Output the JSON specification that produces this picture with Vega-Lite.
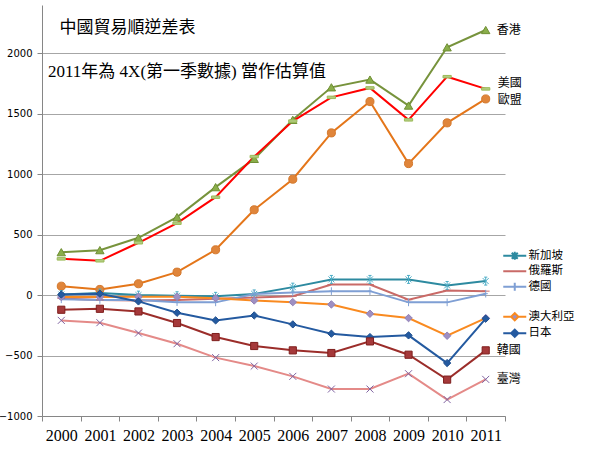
{
  "$schema": "https://vega.github.io/schema/vega-lite/v6.json",
  "width": 463,
  "height": 411,
  "autosize": "none",
  "padding": {"left": 42, "top": 5, "right": 95, "bottom": 41},
  "background": "white",
  "config": {"view": {"stroke": null}},
  "title": {
    "text": "\u2060\u00a0\u00a0\u00a0中國貿易順逆差表",
    "subtitle": "2011年為 4X(第一季數據) 當作估算值",
    "anchor": "start",
    "frame": "group",
    "orient": "top",
    "offset": 0,
    "dx": 6,
    "dy": 76,
    "font": "Noto Sans CJK TC",
    "fontSize": 17,
    "fontWeight": "normal",
    "color": "black",
    "subtitleFont": "Liberation Serif, Noto Sans CJK TC",
    "subtitleFontSize": 17,
    "subtitleColor": "black",
    "subtitlePadding": 27
  },
  "data": {"values": [
    {"year":"2000","series":"香港","value":355},{"year":"2001","series":"香港","value":372},{"year":"2002","series":"香港","value":474},{"year":"2003","series":"香港","value":645},{"year":"2004","series":"香港","value":893},{"year":"2005","series":"香港","value":1127},{"year":"2006","series":"香港","value":1450},{"year":"2007","series":"香港","value":1719},{"year":"2008","series":"香港","value":1783},{"year":"2009","series":"香港","value":1568},{"year":"2010","series":"香港","value":2050},{"year":"2011","series":"香港","value":2193},
    {"year":"2000","series":"美國","value":300},{"year":"2001","series":"美國","value":284},{"year":"2002","series":"美國","value":433},{"year":"2003","series":"美國","value":595},{"year":"2004","series":"美國","value":810},{"year":"2005","series":"美國","value":1146},{"year":"2006","series":"美國","value":1440},{"year":"2007","series":"美國","value":1636},{"year":"2008","series":"美國","value":1714},{"year":"2009","series":"美國","value":1450},{"year":"2010","series":"美國","value":1807},{"year":"2011","series":"美國","value":1706},
    {"year":"2000","series":"歐盟","value":74},{"year":"2001","series":"歐盟","value":47},{"year":"2002","series":"歐盟","value":94},{"year":"2003","series":"歐盟","value":190},{"year":"2004","series":"歐盟","value":375},{"year":"2005","series":"歐盟","value":706},{"year":"2006","series":"歐盟","value":959},{"year":"2007","series":"歐盟","value":1342},{"year":"2008","series":"歐盟","value":1601},{"year":"2009","series":"歐盟","value":1088},{"year":"2010","series":"歐盟","value":1425},{"year":"2011","series":"歐盟","value":1623},
    {"year":"2000","series":"新加坡","value":5},{"year":"2001","series":"新加坡","value":17},{"year":"2002","series":"新加坡","value":0},{"year":"2003","series":"新加坡","value":-5},{"year":"2004","series":"新加坡","value":-10},{"year":"2005","series":"新加坡","value":10},{"year":"2006","series":"新加坡","value":66},{"year":"2007","series":"新加坡","value":130},{"year":"2008","series":"新加坡","value":130},{"year":"2009","series":"新加坡","value":130},{"year":"2010","series":"新加坡","value":80},{"year":"2011","series":"新加坡","value":116},
    {"year":"2000","series":"俄羅斯","value":-27},{"year":"2001","series":"俄羅斯","value":-40},{"year":"2002","series":"俄羅斯","value":-45},{"year":"2003","series":"俄羅斯","value":-40},{"year":"2004","series":"俄羅斯","value":-30},{"year":"2005","series":"俄羅斯","value":-20},{"year":"2006","series":"俄羅斯","value":-10},{"year":"2007","series":"俄羅斯","value":88},{"year":"2008","series":"俄羅斯","value":88},{"year":"2009","series":"俄羅斯","value":-38},{"year":"2010","series":"俄羅斯","value":39},{"year":"2011","series":"俄羅斯","value":33},
    {"year":"2000","series":"德國","value":-35},{"year":"2001","series":"德國","value":-40},{"year":"2002","series":"德國","value":-40},{"year":"2003","series":"德國","value":-58},{"year":"2004","series":"德國","value":-60},{"year":"2005","series":"德國","value":10},{"year":"2006","series":"德國","value":22},{"year":"2007","series":"德國","value":33},{"year":"2008","series":"德國","value":33},{"year":"2009","series":"德國","value":-60},{"year":"2010","series":"德國","value":-60},{"year":"2011","series":"德國","value":12},
    {"year":"2000","series":"澳大利亞","value":-16},{"year":"2001","series":"澳大利亞","value":-16},{"year":"2002","series":"澳大利亞","value":-13},{"year":"2003","series":"澳大利亞","value":-13},{"year":"2004","series":"澳大利亞","value":-25},{"year":"2005","series":"澳大利亞","value":-44},{"year":"2006","series":"澳大利亞","value":-58},{"year":"2007","series":"澳大利亞","value":-77},{"year":"2008","series":"澳大利亞","value":-154},{"year":"2009","series":"澳大利亞","value":-190},{"year":"2010","series":"澳大利亞","value":-336},{"year":"2011","series":"澳大利亞","value":-190},
    {"year":"2000","series":"日本","value":5},{"year":"2001","series":"日本","value":12},{"year":"2002","series":"日本","value":-52},{"year":"2003","series":"日本","value":-146},{"year":"2004","series":"日本","value":-209},{"year":"2005","series":"日本","value":-168},{"year":"2006","series":"日本","value":-242},{"year":"2007","series":"日本","value":-319},{"year":"2008","series":"日本","value":-347},{"year":"2009","series":"日本","value":-333},{"year":"2010","series":"日本","value":-562},{"year":"2011","series":"日本","value":-195},
    {"year":"2000","series":"韓國","value":-121},{"year":"2001","series":"韓國","value":-113},{"year":"2002","series":"韓國","value":-135},{"year":"2003","series":"韓國","value":-231},{"year":"2004","series":"韓國","value":-347},{"year":"2005","series":"韓國","value":-421},{"year":"2006","series":"韓國","value":-457},{"year":"2007","series":"韓國","value":-479},{"year":"2008","series":"韓國","value":-383},{"year":"2009","series":"韓國","value":-493},{"year":"2010","series":"韓國","value":-699},{"year":"2011","series":"韓國","value":-457},
    {"year":"2000","series":"臺灣","value":-209},{"year":"2001","series":"臺灣","value":-228},{"year":"2002","series":"臺灣","value":-314},{"year":"2003","series":"臺灣","value":-402},{"year":"2004","series":"臺灣","value":-517},{"year":"2005","series":"臺灣","value":-587},{"year":"2006","series":"臺灣","value":-672},{"year":"2007","series":"臺灣","value":-777},{"year":"2008","series":"臺灣","value":-777},{"year":"2009","series":"臺灣","value":-650},{"year":"2010","series":"臺灣","value":-864},{"year":"2011","series":"臺灣","value":-697}
  ]},
  "encoding": {
    "x": {
      "field": "year", "type": "ordinal", "bandPosition": 0.5,
      "scale": {"type": "band", "paddingInner": 0, "paddingOuter": 0},
      "axis": {"title": null, "labelAngle": 0, "labelFont": "Liberation Serif", "labelFontSize": 16, "labelColor": "black", "labelPadding": 6, "tickBand": "extent", "tickSize": 5, "tickColor": "#868686", "domainColor": "#868686", "grid": false}
    },
    "y": {
      "field": "value", "type": "quantitative",
      "scale": {"domain": [-1000, 2400], "nice": false, "zero": false},
      "axis": {"title": null, "format": "d", "values": [-1000, -500, 0, 500, 1000, 1500, 2000], "labelFont": "DejaVu Sans", "labelFontSize": 10, "labelColor": "black", "labelPadding": 5, "tickSize": 5, "tickColor": "#868686", "domainColor": "#868686", "gridColor": "#a6a6a6", "grid": true}
    }
  },
  "layer": [
    {
      "mark": {"type": "line", "strokeWidth": 2},
      "encoding": {
        "color": {
          "field": "series", "type": "nominal",
          "scale": {
            "domain": ["香港","美國","歐盟","新加坡","俄羅斯","德國","澳大利亞","日本","韓國","臺灣"],
            "range": ["#77933c","#ff0000","#e4761a","#2d8aa0","#c96a67","#7f9fd4","#f98a20","#245aa0","#9b2d2a","#e48a88"]
          },
          "legend": {
            "values": ["新加坡","俄羅斯","德國"," ","澳大利亞","日本"],
            "title": null,
            "orient": "none",
            "legendX": 467,
            "legendY": 245,
            "padding": 0,
            "symbolSize": 64,
            "symbolStrokeWidth": 2,
            "labelFont": "Noto Sans CJK TC",
            "labelFontSize": 11.5,
            "labelColor": "black",
            "labelOffset": 8,
            "rowPadding": 0.5,
            "encode": {
              "symbols": {"update": {
                "shape": {"signal": "datum.value === '新加坡' ? 'M-2.875,0H2.875M-0.75,-0.75L0.75,0.75M-0.75,0.75L0.75,-0.75M0,-1V1' : datum.value === '德國' ? 'M-2.875,0H2.875M0,-1V1' : datum.value === '澳大利亞' || datum.value === '日本' ? 'M-2.875,0H-0.9L0,-0.9L0.9,0H2.875M0.9,0L0,0.9L-0.9,0' : 'M-2.875,0H2.875'"},
                "fill": {"signal": "datum.value === '澳大利亞' ? '#9e8fc2' : datum.value === '日本' ? '#245aa0' : 'transparent'"},
                "opacity": {"signal": "datum.value === ' ' ? 0 : 1"},
                "strokeWidth": {"value": 2}
              }}
            }
          }
        },
        "detail": {"field": "series"}
      }
    },
    {
      "mark": {"type": "point", "filled": true, "strokeWidth": 1, "opacity": 1},
      "encoding": {
        "shape": {
          "field": "series", "type": "nominal", "legend": null,
          "scale": {
            "domain": ["香港","美國","歐盟","新加坡","俄羅斯","德國","澳大利亞","日本","韓國","臺灣"],
            "range": ["triangle-up","M-1,-0.3H1V0.3H-1Z","circle","M-0.75,-0.75L0.75,0.75M-0.75,0.75L0.75,-0.75M0,-1V1M-0.4,-1H0.4M-0.4,1H0.4","M-1,0H1","M0,-1V1M-0.55,0H0.55","diamond","diamond","square","M-1,-1L1,1M-1,1L1,-1"]
          }
        },
        "fill": {
          "field": "series", "type": "nominal", "legend": null,
          "scale": {
            "domain": ["香港","美國","歐盟","新加坡","俄羅斯","德國","澳大利亞","日本","韓國","臺灣"],
            "range": ["#8aae4a","#b3cc82","#e0853a","#4bacc6","#c96a67","#7f9fd4","#9e8fc2","#245aa0","#a5393a","#8064a2"]
          }
        },
        "stroke": {
          "field": "series", "type": "nominal", "legend": null,
          "scale": {
            "domain": ["香港","美國","歐盟","新加坡","俄羅斯","德國","澳大利亞","日本","韓國","臺灣"],
            "range": ["#6f8f34","#9bbb59","#d4782c","#4bacc6","#c96a67","#7f9fd4","#9181b8","#1f4e8c","#7f1f1d","#8064a2"]
          }
        },
        "size": {
          "field": "series", "type": "nominal", "legend": null,
          "scale": {
            "domain": ["香港","美國","歐盟","新加坡","俄羅斯","德國","澳大利亞","日本","韓國","臺灣"],
            "range": [70, 49, 55, 81, 36, 81, 50, 50, 64, 81]
          }
        }
      }
    },
    {
      "transform": [{"filter": "datum.year === '2011' && indexof(['香港','韓國','臺灣'], datum.series) >= 0"}],
      "mark": {"type": "text", "align": "left", "baseline": "middle", "dx": 11, "font": "Noto Sans CJK TC", "fontSize": 12, "color": "black"},
      "encoding": {"text": {"field": "series"}}
    },
    {
      "transform": [{"filter": "datum.year === '2011' && datum.series === '美國'"}],
      "mark": {"type": "text", "align": "left", "baseline": "middle", "dx": 12, "dy": -6, "font": "Noto Sans CJK TC", "fontSize": 12, "color": "black"},
      "encoding": {"text": {"field": "series"}}
    },
    {
      "transform": [{"filter": "datum.year === '2011' && datum.series === '歐盟'"}],
      "mark": {"type": "text", "align": "left", "baseline": "middle", "dx": 12, "dy": 1, "font": "Noto Sans CJK TC", "fontSize": 12, "color": "black"},
      "encoding": {"text": {"field": "series"}}
    }
  ],
  "resolve": {"scale": {"color": "independent", "fill": "independent", "stroke": "independent", "shape": "independent", "size": "independent"}}
}
